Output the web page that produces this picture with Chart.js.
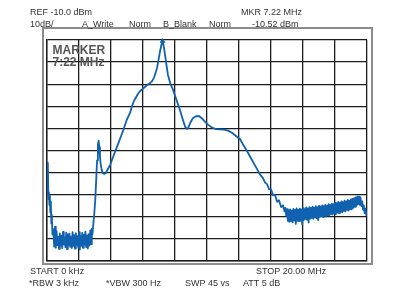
<!DOCTYPE html>
<html><head><meta charset="utf-8">
<script src="https://cdn.jsdelivr.net/npm/chart.js@4"></script>
<style>html,body{margin:0;padding:0;background:#fff;overflow:hidden}canvas{display:block}</style>
</head><body>
<canvas id="c" width="395" height="293"></canvas>
<script>
// ---- data (frequency in MHz, level in dBm) ----
const startFreq  = [0.02,0.04,0.06,0.09,0.12,0.15,0.18,0.21,0.24,0.27,0.30,0.34,0.37];
const startLevel = [-66.0,-80.0,-65.5,-82.0,-79.0,-84.5,-80.5,-88.0,-83.0,-93.0,-89.0,-98.0,-95.5];

const lowNoiseFreq = [0.40,0.45,0.50,0.55,0.60,0.65,0.70,0.75,0.80,0.85,0.90,0.95,1.00,1.05,1.10,1.15,1.20,1.25,1.30,1.35,1.40,1.45,1.50,1.55,1.60,1.65,1.70,1.75,1.80,1.85,1.90,1.95,2.00,2.05,2.10,2.15,2.20,2.25,2.30,2.35,2.40,2.45,2.50,2.55,2.60,2.65,2.70,2.75,2.80];
const lowNoiseLevel = [-97.0,-103.5,-94.5,-104.0,-96.5,-102.8,-99.0,-104.5,-97.5,-103.0,-98.5,-104.2,-96.8,-102.5,-99.2,-103.8,-97.2,-104.6,-98.0,-102.9,-97.6,-103.6,-99.0,-104.1,-96.9,-103.2,-98.3,-104.4,-97.4,-102.7,-98.8,-103.9,-97.0,-104.8,-98.6,-103.1,-97.3,-104.0,-98.1,-102.6,-96.7,-103.7,-98.4,-104.3,-97.8,-103.0,-96.2,-102.4,-95.5];

const traceFreq = [2.84,2.90,2.96,3.02,3.08,3.13,3.18,3.23,3.27,3.31,3.36,3.42,3.50,3.58,3.67,3.79,3.94,4.14,4.36,4.56,4.77,4.98,5.19,5.31,5.44,5.56,5.69,5.81,5.94,6.06,6.19,6.31,6.44,6.56,6.69,6.81,6.88,6.97,7.06,7.14,7.22,7.30,7.38,7.47,7.56,7.72,7.88,8.09,8.31,8.47,8.63,8.75,8.84,8.97,9.13,9.31,9.50,9.69,9.88,10.06,10.31,10.56,10.81,11.06,11.31,11.56,11.81,12.06,12.31,12.56,12.81,13.06,13.31,13.50,13.63,13.75,13.88,14.00,14.13,14.25,14.38,14.50,14.63,14.75,14.84];
const traceLevel = [-98.0,-93.0,-88.0,-82.0,-72.5,-64.5,-57.5,-55.6,-58.5,-62.8,-66.5,-68.8,-70.3,-70.6,-70.2,-68.6,-66.6,-62.7,-58.6,-54.8,-50.7,-46.2,-43.0,-40.0,-37.5,-36.0,-34.3,-33.2,-32.4,-31.6,-30.8,-30.1,-29.5,-28.7,-27.0,-24.3,-22.5,-19.0,-15.3,-12.5,-10.52,-13.0,-16.8,-21.5,-25.8,-30.0,-32.6,-37.0,-41.7,-45.5,-49.2,-50.3,-49.5,-47.2,-45.3,-44.5,-44.4,-45.5,-47.0,-48.3,-49.6,-50.3,-50.4,-50.6,-51.0,-52.0,-53.4,-54.8,-58.0,-61.0,-64.3,-67.5,-70.8,-72.5,-74.5,-75.2,-77.5,-77.6,-80.3,-80.0,-83.2,-82.5,-85.6,-84.8,-87.5];

const highNoiseFreq = [14.90,14.95,15.00,15.05,15.10,15.15,15.20,15.25,15.30,15.35,15.40,15.45,15.50,15.55,15.60,15.65,15.70,15.75,15.80,15.85,15.90,15.95,16.00,16.05,16.10,16.15,16.20,16.25,16.30,16.35,16.40,16.45,16.50,16.55,16.60,16.65,16.70,16.75,16.80,16.85,16.90,16.95,17.00,17.05,17.10,17.15,17.20,17.25,17.30,17.35,17.40,17.45,17.50,17.55,17.60,17.65,17.70,17.75,17.80,17.85,17.90,17.95,18.00,18.05,18.10,18.15,18.20,18.25,18.30,18.35,18.40,18.45,18.50,18.55,18.60,18.65,18.70,18.75,18.80,18.85,18.90,18.95,19.00,19.05,19.10,19.15,19.20,19.25,19.30,19.35,19.40,19.45,19.50,19.55,19.60,19.65,19.70,19.75,19.80,19.85,19.90,19.95,20.00];
const highNoiseLevel = [-86.0,-89.5,-86.5,-91.8,-87.0,-92.3,-86.6,-91.9,-87.2,-92.5,-86.4,-91.6,-86.9,-93.2,-86.2,-91.8,-86.8,-92.0,-86.3,-91.4,-86.7,-93.5,-86.1,-91.5,-86.5,-91.0,-85.8,-91.3,-86.2,-92.6,-85.6,-90.8,-86.0,-90.5,-85.4,-90.9,-85.9,-90.2,-85.2,-90.6,-85.6,-91.5,-85.1,-90.0,-85.5,-89.7,-84.8,-90.1,-85.2,-89.4,-84.6,-89.8,-84.9,-89.2,-84.3,-89.5,-84.6,-88.7,-84.0,-89.0,-84.3,-88.4,-83.7,-88.8,-83.9,-88.1,-83.3,-88.4,-83.6,-87.7,-83.0,-88.0,-83.4,-87.3,-82.7,-87.6,-83.0,-86.9,-82.4,-87.2,-82.7,-86.5,-82.1,-86.6,-81.9,-86.0,-81.6,-85.5,-81.2,-85.0,-80.8,-84.3,-80.9,-84.6,-81.5,-85.2,-83.0,-86.8,-84.8,-88.3,-86.3,-89.2,-87.6];

const markerFreq = 7.22;
const markerLevel = -10.52;

const refLevel = -10;      // top of screen, dBm
const bottomLevel = -110;  // bottom of screen, dBm
const startMHz = 0, stopMHz = 20;

// ---- texts ----
const headerTexts = [
  {t:'REF -10.0 dBm', x:30, y:15},
  {t:'MKR 7.22 MHz', x:241, y:15},
  {t:'10dB/', x:30, y:26.5},
  {t:'A_Write', x:82, y:26.5},
  {t:'Norm', x:129, y:26.5},
  {t:'B_Blank', x:163, y:26.5},
  {t:'Norm', x:209, y:26.5},
  {t:'-10.52 dBm', x:252, y:26.5}
];
const footerTexts = [
  {t:'START 0 kHz', x:30, y:274},
  {t:'STOP 20.00 MHz', x:256, y:274},
  {t:'*RBW 3 kHz', x:29, y:285.5},
  {t:'*VBW 300 Hz', x:106, y:285.5},
  {t:'SWP 45 vs', x:185, y:285.5},
  {t:'ATT 5 dB', x:243, y:285.5}
];
const markerTexts = [
  {t:'MARKER', x:52.5, y:53.5},
  {t:'7:22 MHz', x:52.5, y:65.5}
];

const toPoints = (f, l) => f.map((x, i) => ({x: x, y: l[i]}));
const tracePoints = [].concat(
  toPoints(startFreq, startLevel),
  toPoints(lowNoiseFreq, lowNoiseLevel),
  toPoints(traceFreq, traceLevel),
  toPoints(highNoiseFreq, highNoiseLevel)
);

const BLUE = '#1062b0';
const GRID = '#1c1c1c';

const framePlugin = {
  id: 'frame',
  beforeDraw(chart) {
    const c = chart.ctx;
    c.save();
    c.fillStyle = '#fff';
    c.fillRect(0, 0, chart.width, chart.height);
    c.strokeStyle = '#8c8c8c';
    c.lineWidth = 2;
    c.strokeRect(43, 28, 329, 236);
    c.restore();
  }
};

const textPlugin = {
  id: 'texts',
  afterDraw(chart) {
    const c = chart.ctx;
    c.save();
    c.textBaseline = 'alphabetic';
    c.textAlign = 'left';
    c.fillStyle = '#333';
    c.font = '9px "Liberation Sans", Arial, sans-serif';
    headerTexts.concat(footerTexts).forEach(o => c.fillText(o.t, o.x, o.y));
    c.fillStyle = '#555';
    c.font = 'bold 12px "Liberation Sans", Arial, sans-serif';
    markerTexts.forEach(o => c.fillText(o.t, o.x, o.y));
    c.restore();
  }
};

new Chart(document.getElementById('c'), {
  type: 'line',
  data: {
    datasets: [
      {data: tracePoints, borderColor: BLUE, borderWidth: 1.8, pointRadius: 0, tension: 0, fill: false, borderJoinStyle: 'round'},
      {data: [{x: markerFreq, y: markerLevel}], showLine: false, pointStyle: 'triangle', pointRadius: 2.5,
       backgroundColor: BLUE, borderColor: BLUE, clip: false}
    ]
  },
  options: {
    responsive: false,
    animation: false,
    events: [],
    layout: {padding: {left: 47, right: 28, top: 40, bottom: 32}},
    plugins: {legend: {display: false}, tooltip: {enabled: false}, title: {display: false}},
    scales: {
      x: {type: 'linear', min: startMHz, max: stopMHz,
          ticks: {display: false, stepSize: 2},
          grid: {color: GRID, lineWidth: 1.3, drawTicks: false},
          border: {color: GRID, width: 1.4}},
      y: {type: 'linear', min: bottomLevel, max: refLevel,
          ticks: {display: false, stepSize: 10},
          grid: {color: GRID, lineWidth: 1.3, drawTicks: false},
          border: {color: GRID, width: 1.4}}
    }
  },
  plugins: [framePlugin, textPlugin]
});
</script>
</body></html>
